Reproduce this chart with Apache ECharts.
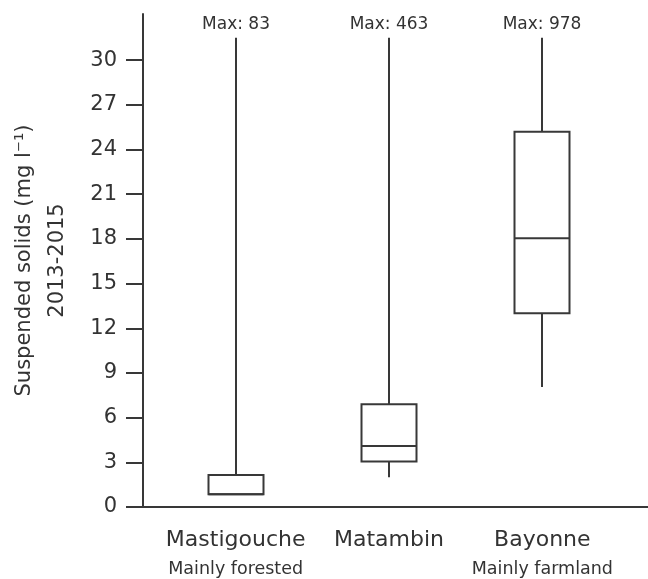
<!DOCTYPE html>
<html>
<head>
<meta charset="utf-8">
<title>Suspended solids</title>
<script src="https://cdn.jsdelivr.net/npm/echarts@6/dist/echarts.min.js"></script>
<style>html,body{margin:0;padding:0;background:#fff}</style>
</head>
<body>
<div id="container" style="width:648px;height:579px"></div>
<script>
// data
var rivers = ['Mastigouche', 'Matambin', 'Bayonne'];
var landUse = ['Mainly forested', '', 'Mainly farmland'];
var lowWhisker = [0.85, 2.0, 8.05];
var q1 = [0.85, 3.05, 13.0];
var median = [0.85, 4.1, 18.05];
var q3 = [2.15, 6.9, 25.2];
var maxValue = [83, 463, 978];
var whiskerBreak = 31.5; // whiskers are cut here, real max is written above
var yTicks = [0, 3, 6, 9, 12, 15, 18, 21, 24, 27, 30];

var FONT = 'DejaVu Sans';
var INK = '#333';
var LINE = '#383838';

var boxData = [];
for (var i = 0; i < rivers.length; i++) {
    boxData.push([i, lowWhisker[i], q1[i], median[i], q3[i], Math.min(maxValue[i], whiskerBreak), maxValue[i]]);
}

function renderBox(params, api) {
    var idx = api.value(0);
    var pLow = api.coord([idx, api.value(1)]);
    var pQ1 = api.coord([idx, api.value(2)]);
    var pMed = api.coord([idx, api.value(3)]);
    var pQ3 = api.coord([idx, api.value(4)]);
    var pTop = api.coord([idx, api.value(5)]);
    var x = Math.round(pQ1[0]);
    var half = 27.5;
    var st = {stroke: LINE, lineWidth: 2, fill: null};
    return {
        type: 'group',
        children: [
            {type: 'line', shape: {x1: x, y1: pTop[1], x2: x, y2: pQ3[1]}, style: st},
            {type: 'line', shape: {x1: x, y1: pQ1[1], x2: x, y2: pLow[1]}, style: st},
            {type: 'rect', shape: {x: x - half, y: pQ3[1], width: half * 2, height: pQ1[1] - pQ3[1]},
                style: {stroke: LINE, lineWidth: 2, fill: '#fff'}},
            {type: 'line', shape: {x1: x - half, y1: pMed[1], x2: x + half, y2: pMed[1]}, style: st},
            {type: 'text', style: {
                text: 'Max: ' + api.value(6), x: x, y: pTop[1] - 5,
                align: 'center', verticalAlign: 'bottom',
                fontSize: 17, fontFamily: FONT, fill: INK
            }}
        ]
    };
}

var dom = document.getElementById('container');
var myChart = echarts.init(dom, null, {renderer: 'canvas'});

var option = {
    animation: false,
    backgroundColor: '#fff',
    grid: [
        {left: 139, right: 0, top: 14, bottom: 72},
        {left: 159, right: 29, top: 14, bottom: 72}
    ],
    xAxis: [
        {
            gridIndex: 0, type: 'value', min: 0, max: 1,
            axisLine: {show: true, lineStyle: {color: LINE, width: 2}},
            axisTick: {show: false}, axisLabel: {show: false}, splitLine: {show: false}
        },
        {
            gridIndex: 1, type: 'category', data: rivers,
            axisLine: {show: false}, axisTick: {show: false}, splitLine: {show: false},
            axisLabel: {
                interval: 0,
                margin: 19,
                formatter: function (v, i) {
                    return '{a|' + v + '}\n{b|' + (landUse[i] || ' ') + '}';
                },
                rich: {
                    a: {fontSize: 22, lineHeight: 29, color: INK, fontFamily: FONT},
                    b: {fontSize: 17.5, lineHeight: 28, color: INK, fontFamily: FONT}
                }
            }
        }
    ],
    yAxis: [
        {
            gridIndex: 0, type: 'value', min: 0, max: 33.1,
            name: 'Suspended solids (mg l\u207B\u00B9)\n2013-2015',
            nameLocation: 'middle',
            nameRotate: 90,
            nameGap: 69,
            nameTextStyle: {fontSize: 21, lineHeight: 33, color: INK, fontFamily: FONT, align: 'center'},
            axisLine: {show: true, lineStyle: {color: LINE, width: 2}},
            axisTick: {show: true, length: 17, customValues: yTicks, lineStyle: {color: LINE, width: 2}},
            axisLabel: {customValues: yTicks, margin: 26, fontSize: 21, color: INK, fontFamily: FONT},
            splitLine: {show: false}
        },
        {
            gridIndex: 1, type: 'value', min: 0, max: 33.1, show: false
        }
    ],
    series: [
        {
            type: 'custom',
            xAxisIndex: 1,
            yAxisIndex: 1,
            renderItem: renderBox,
            encode: {x: 0, y: [1, 2, 3, 4, 5]},
            data: boxData
        }
    ]
};

if (option && typeof option === 'object') {
    myChart.setOption(option);
}
window.addEventListener('resize', myChart.resize);
</script>
</body>
</html>
